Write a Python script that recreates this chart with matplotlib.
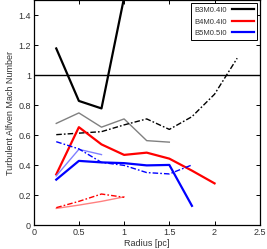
import matplotlib
matplotlib.use("Agg")
import matplotlib.pyplot as plt

plt.rcParams['font.family'] = ['Liberation Sans', 'DejaVu Sans']

# radius bins [pc]
r = [0.25, 0.5, 0.75, 1.0, 1.25, 1.5, 1.75, 2.0, 2.25]

# B3M0.4I0
b3_thick = [1.18, 0.83, 0.78, 1.52]
b3_thin = [0.68, 0.75, 0.655, 0.71, 0.565, 0.555]
b3_dash = [0.605, 0.615, 0.625, 0.67, 0.71, 0.64, 0.725, 0.875, 1.115]

# B4M0.4I0
b4_thick = [0.34, 0.655, 0.54, 0.47, 0.485, 0.445, 0.365, 0.28]
b4_thin = [0.113, 0.135, 0.16, 0.19]
b4_dash = [0.118, 0.16, 0.209, 0.187]

# B5M0.5I0
b5_thick = [0.305, 0.43, 0.42, 0.415, 0.40, 0.403, 0.13]
b5_thin = [0.33, 0.507, 0.472]
b5_dash = [0.558, 0.51, 0.42, 0.40, 0.352, 0.343, 0.403]

labels = ["B3M0.4I0", "B4M0.4I0", "B5M0.5I0"]
colors = ["black", "red", "blue"]
light = ["#808080", "#ff8080", "#8080ff"]

fig = plt.figure(figsize=(2.67, 2.49), dpi=100)
ax = fig.add_axes([0.126, 0.095, 0.847, 0.903])

dash = (0, (4, 1.5, 1.2, 1.5))
groups = [(b3_thick, b3_thin, b3_dash), (b4_thick, b4_thin, b4_dash), (b5_thick, b5_thin, b5_dash)]
for i, (thick, thin, dsh) in enumerate(groups):
    ax.plot(r[:len(thin)], thin, color=light[i], lw=1.0)
    ax.plot(r[:len(dsh)], dsh, color=colors[i], lw=1.0, linestyle=dash)
    ax.plot(r[:len(thick)], thick, color=colors[i], lw=1.6, label=labels[i])

ax.axhline(1.0, color="black", lw=1.0)

ax.set_xlim(0, 2.5)
ax.set_ylim(0, 1.5)
ax.set_xticks([0, 0.5, 1, 1.5, 2, 2.5])
ax.set_xticklabels(["0", "0.5", "1", "1.5", "2", "2.5"])
ax.set_yticks([0, 0.2, 0.4, 0.6, 0.8, 1.0, 1.2, 1.4])
ax.set_yticklabels(["0", "0.2", "0.4", "0.6", "0.8", "1", "1.2", "1.4"])
ax.tick_params(direction="in", top=True, right=True, length=3, width=0.7,
               labelsize=6.5, pad=2, labelcolor="#333333")
for s in ax.spines.values():
    s.set_linewidth(0.9)

ax.set_xlabel("Radius [pc]", fontsize=6.5, labelpad=1, color="#333333")
ax.set_ylabel("Turbulent Alfven Mach Number", fontsize=6.5, labelpad=2, color="#333333")

leg = ax.legend(loc="upper right", fontsize=5.5, markerfirst=False, fancybox=False,
                framealpha=1, edgecolor="black", handlelength=2.8,
                borderaxespad=0.35, labelspacing=0.55, handletextpad=0.7,
                borderpad=0.45)
leg.get_frame().set_linewidth(0.7)
for t in leg.get_texts():
    t.set_color("#333333")

fig.savefig("out.png", dpi=100)
